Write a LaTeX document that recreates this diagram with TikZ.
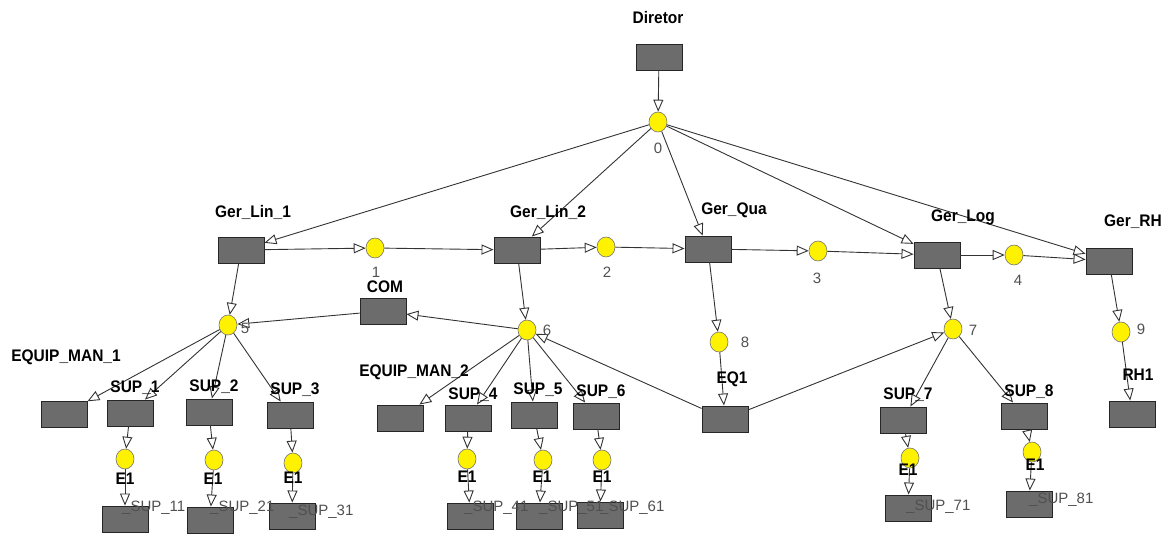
\documentclass[tikz,border=0pt]{standalone}
\usepackage{fontspec}
\setmainfont{Liberation Sans}
\usetikzlibrary{arrows.meta,shapes.geometric}
\definecolor{boxgray}{RGB}{108,108,108}
\definecolor{txtgray}{RGB}{80,80,80}
\begin{document}
\begin{tikzpicture}[x=1pt,y=-1pt,
 box/.style={draw=black!85,fill=boxgray,minimum width=46pt,minimum height=26pt,inner sep=0pt,line width=0.9pt},
 place/.style={ellipse,draw=black!55,fill=yellow,minimum width=18pt,minimum height=20pt,inner sep=0pt,line width=0.6pt},
 lbl/.style={font=\fontsize{15.5}{15.5}\selectfont\bfseries,inner sep=0pt,yscale=1.08,transform shape},
 num/.style={font=\fontsize{15}{15}\selectfont,text=txtgray,inner sep=0pt},
 sub/.style={font=\fontsize{15}{15}\selectfont,text=txtgray,inner sep=0pt,anchor=west},
 arc/.style={draw=black!80,line width=0.9pt,-{Triangle[open,length=12pt,width=10pt]}},
]
\useasboundingbox (0,0) rectangle (1169,534);
% nodes
\node[box] (dir) at (659,57) {};
\node[place] (p0) at (658,122) {};
\node[box] (gl1) at (241,250) {};
\node[place] (p1) at (375,248) {};
\node[box] (gl2) at (517,250) {};
\node[place] (p2) at (606,247) {};
\node[box] (gq) at (708,249) {};
\node[place] (p3) at (818,251) {};
\node[box] (glog) at (937,255) {};
\node[place] (p4) at (1014,255) {};
\node[box] (grh) at (1109,261) {};
\node[box] (com) at (383,311) {};
\node[place] (p5) at (228,325) {};
\node[place] (p6) at (527,330) {};
\node[place] (p8) at (719,342) {};
\node[place] (p7) at (953,329) {};
\node[place] (p9) at (1121,332) {};
\node[box] (em1) at (64,414) {};
\node[box] (s1) at (130,413) {};
\node[box] (s2) at (209,412) {};
\node[box] (s3) at (290,415) {};
\node[box] (em2) at (400,418) {};
\node[box] (s4) at (468,418) {};
\node[box] (s5) at (534,415) {};
\node[box] (s6) at (596,416) {};
\node[box] (eq1) at (725,419) {};
\node[box] (s7) at (903,420) {};
\node[box] (s8) at (1024,416) {};
\node[box] (rh1) at (1132,414) {};
\node[place] (e1) at (125,459) {};
\node[place] (e2) at (214,460) {};
\node[place] (e3) at (293,463) {};
\node[place] (e4) at (467,459) {};
\node[place] (e5) at (543,460) {};
\node[place] (e6) at (602,460) {};
\node[place] (e7) at (910,458) {};
\node[place] (e8) at (1032,452) {};
\node[box] (b1) at (125,519) {};
\node[box] (b2) at (210,520) {};
\node[box] (b3) at (292,516) {};
\node[box] (b4) at (470,516) {};
\node[box] (b5) at (539,516) {};
\node[box] (b6) at (600,515) {};
\node[box] (b7) at (908,508) {};
\node[box] (b8) at (1029,504) {};
% edges
\draw[arc] (dir) -- (p0);
\draw[arc] (p0) -- (gl1);
\draw[arc] (p0) -- (gl2);
\draw[arc] (p0) -- (gq);
\draw[arc] (p0) -- (glog);
\draw[arc] (p0) -- (grh);
\draw[arc] (gl1) -- (p1);
\draw[arc] (p1) -- (gl2);
\draw[arc] (gl2) -- (p2);
\draw[arc] (p2) -- (gq);
\draw[arc] (gq) -- (p3);
\draw[arc] (p3) -- (glog);
\draw[arc] (glog) -- (p4);
\draw[arc] (p4) -- (grh);
\draw[arc] (gl1) -- (p5);
\draw[arc] (com) -- (p5);
\draw[arc] (p6) -- (com);
\draw[arc] (gl2) -- (p6);
\draw[arc] (eq1) -- (p6);
\draw[arc] (eq1) -- (p7);
\draw[arc] (gq) -- (p8);
\draw[arc] (p8) -- (eq1);
\draw[arc] (glog) -- (p7);
\draw[arc] (grh) -- (p9);
\draw[arc] (p9) -- (rh1);
\draw[arc] (p5) -- (em1);
\draw[arc] (p5) -- (s1);
\draw[arc] (p5) -- (s2);
\draw[arc] (p5) -- (s3);
\draw[arc] (p6) -- (em2);
\draw[arc] (p6) -- (s4);
\draw[arc] (p6) -- (s5);
\draw[arc] (p6) -- (s6);
\draw[arc] (p7) -- (s7);
\draw[arc] (p7) -- (s8);
\foreach \i in {1,...,8}{
  \draw[arc] (s\i) -- (e\i);
  \draw[arc] (e\i) -- (b\i);
}
% labels
\node[lbl] (tdir) at (658,18) {Diretor};
\node[lbl] (tgl1) at (253,212) {Ger\_Lin\_1};
\node[lbl] (tgl2) at (548,212) {Ger\_Lin\_2};
\node[lbl] (tgq) at (734,210) {Ger\_Qua};
\node[lbl] (tglog) at (963,217) {Ger\_Log};
\node[lbl] (tgrh) at (1133,222) {Ger\_RH};
\node[lbl] (tcom) at (385,287) {COM};
\node[lbl] (tem1) at (66,357) {EQUIP\_MAN\_1};
\node[lbl] (tem2) at (414,372) {EQUIP\_MAN\_2};
\node[lbl] (ts1) at (135,388) {SUP\_1};
\node[lbl] (ts2) at (214,387) {SUP\_2};
\node[lbl] (ts3) at (295,390) {SUP\_3};
\node[lbl] (ts4) at (473,395) {SUP\_4};
\node[lbl] (ts5) at (538,390) {SUP\_5};
\node[lbl] (ts6) at (601,392) {SUP\_6};
\node[lbl] (teq1) at (732,379) {EQ1};
\node[lbl] (ts7) at (908,395) {SUP\_7};
\node[lbl] (ts8) at (1029,392) {SUP\_8};
\node[lbl] (trh1) at (1138,375) {RH1};
\node[lbl] (te1) at (125,479) {E1};
\node[lbl] (te2) at (213,479) {E1};
\node[lbl] (te3) at (293,478) {E1};
\node[lbl] (te4) at (467,477) {E1};
\node[lbl] (te5) at (542,477) {E1};
\node[lbl] (te6) at (602,477) {E1};
\node[lbl] (te7) at (908,470) {E1};
\node[lbl] (te8) at (1035,465) {E1};
\node[num] (n0) at (658,148) {0};
\node[num] (n1) at (376,272) {1};
\node[num] (n2) at (607,272) {2};
\node[num] (n3) at (817,278) {3};
\node[num] (n4) at (1018,280) {4};
\node[num] (n5) at (245,328) {5};
\node[num] (n6) at (547,330) {6};
\node[num] (n7) at (973,330) {7};
\node[num] (n8) at (745,342) {8};
\node[num] (n9) at (1141,329) {9};
\node[sub] (u1) at (122,508) {\_SUP\_11};
\node[sub] (u2) at (210,508) {\_SUP\_21};
\node[sub] (u3) at (289,512) {\_SUP\_31};
\node[sub] (u4) at (464,508) {\_SUP\_41};
\node[sub] (u5) at (539,508) {\_SUP\_51};
\node[sub] (u6) at (600,508) {\_SUP\_61};
\node[sub] (u7) at (906,507) {\_SUP\_71};
\node[sub] (u8) at (1029,500) {\_SUP\_81};
\end{tikzpicture}
\end{document}
